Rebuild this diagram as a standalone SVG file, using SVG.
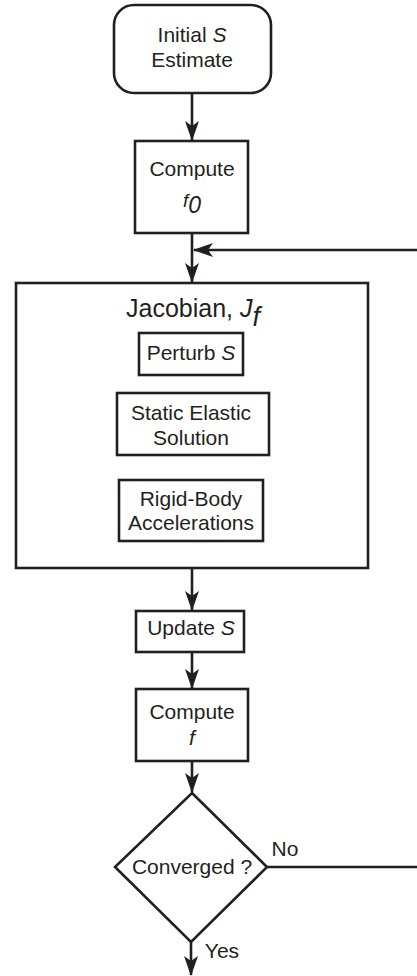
<svg xmlns="http://www.w3.org/2000/svg" width="417" height="976" viewBox="0 0 417 976">
<defs>
<style>
.box{fill:#fff;stroke:#231f20;stroke-width:2.6}
.ln{fill:none;stroke:#231f20;stroke-width:2.6}
.t{font-family:"Liberation Sans",Arial,sans-serif;font-size:21px;fill:#231f20;text-anchor:middle}
.i{font-style:italic}
</style>
<marker id="ah" viewBox="0 0 20 14" refX="19" refY="7" markerWidth="20" markerHeight="14" orient="auto" markerUnits="userSpaceOnUse">
<path d="M0,0 L20,7 L0,14 L5,7 z" fill="#231f20"/>
</marker>
</defs>
<rect width="417" height="976" fill="#fff"/>
<g id="connectors">
<line class="ln" x1="192" y1="93" x2="192" y2="140" marker-end="url(#ah)"/>
<line class="ln" x1="192" y1="233" x2="192" y2="282" marker-end="url(#ah)"/>
<line class="ln" x1="417" y1="250" x2="194" y2="250" marker-end="url(#ah)"/>
<line class="ln" x1="192" y1="568" x2="192" y2="610" marker-end="url(#ah)"/>
<line class="ln" x1="192" y1="652" x2="192" y2="688" marker-end="url(#ah)"/>
<line class="ln" x1="192" y1="761" x2="192" y2="792" marker-end="url(#ah)"/>
<line class="ln" x1="191" y1="942" x2="191" y2="975" marker-end="url(#ah)"/>
<line class="ln" x1="267" y1="867" x2="417" y2="867"/>
<text class="t" x="285" y="856">No</text>
<text class="t" x="222" y="958">Yes</text>
</g>
<g id="initial">
<rect class="box" x="114" y="5" width="157" height="88" rx="20"/>
<text class="t" x="192" y="42">Initial <tspan class="i">S</tspan></text>
<text class="t" x="192" y="67">Estimate</text>
</g>
<g id="compute-f0">
<rect class="box" x="135" y="141" width="113" height="92"/>
<text class="t" x="192" y="176">Compute</text>
<text class="t i" x="192" y="207"><tspan font-size="19">f</tspan><tspan font-size="23" dy="6">0</tspan></text>
</g>
<g id="jacobian">
<rect class="box" x="16" y="283" width="352" height="285"/>
<text class="t" x="193" y="317" style="font-size:25px">Jacobian, <tspan class="i">J</tspan><tspan class="i" font-size="27" dy="9">f</tspan></text>
</g>
<g id="perturb">
<rect class="box" x="139" y="333" width="104" height="42"/>
<text class="t" x="191" y="360">Perturb <tspan class="i">S</tspan></text>
</g>
<g id="static">
<rect class="box" x="117" y="393" width="152" height="62"/>
<text class="t" x="191" y="420">Static Elastic</text>
<text class="t" x="191" y="445">Solution</text>
</g>
<g id="rigid">
<rect class="box" x="119" y="480" width="144" height="61"/>
<text class="t" x="191" y="506">Rigid-Body</text>
<text class="t" x="191" y="530">Accelerations</text>
</g>
<g id="update">
<rect class="box" x="136" y="611" width="108" height="41"/>
<text class="t" x="191" y="635">Update <tspan class="i">S</tspan></text>
</g>
<g id="compute-f">
<rect class="box" x="136" y="689" width="112" height="72"/>
<text class="t" x="192" y="719">Compute</text>
<text class="t i" x="192" y="745">f</text>
</g>
<g id="converged">
<polygon class="box" points="192,793 267,867 191,942 115,867"/>
<text class="t" x="192" y="874">Converged ?</text>
</g>
</svg>
